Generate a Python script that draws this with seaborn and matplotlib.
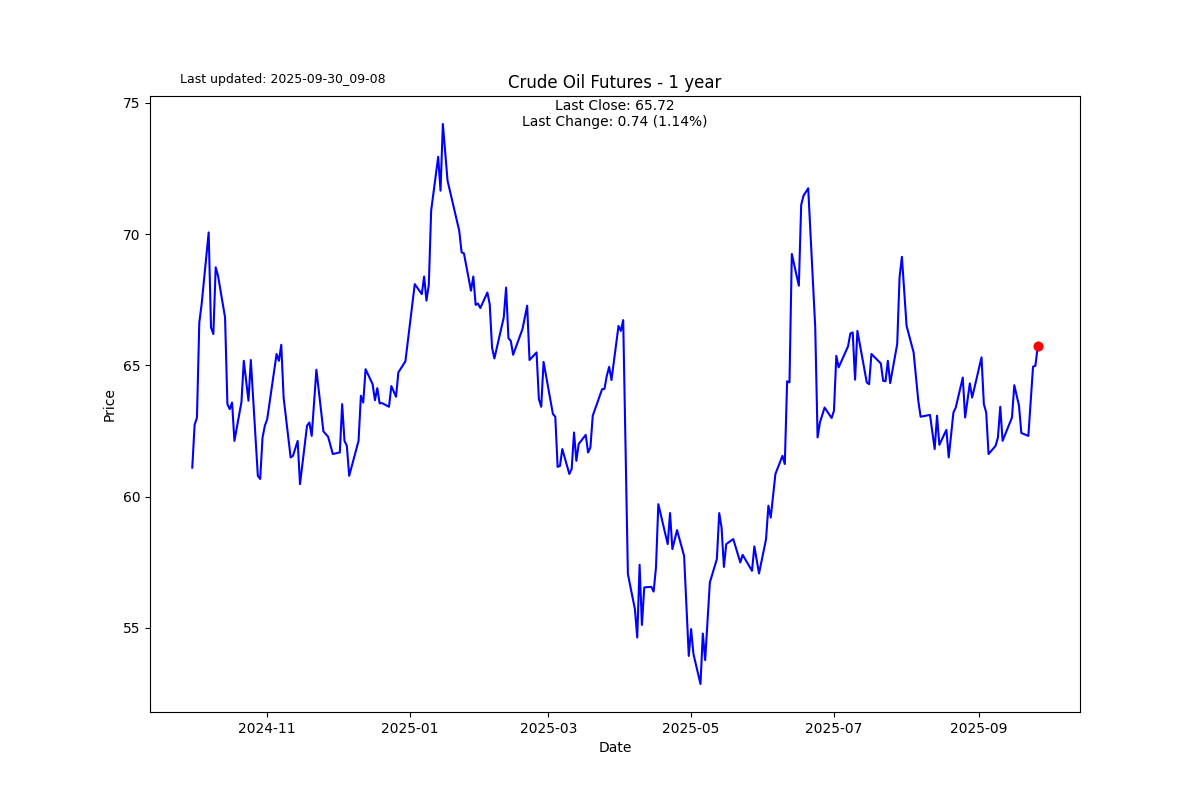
import matplotlib

matplotlib.use("Agg")
import matplotlib.pyplot as plt
import pandas as pd
import seaborn as sns

TITLE = "Crude Oil Futures - 1 year"
UPDATED = "Last updated: 2025-09-30_09-08"

# closing prices (days on straight stretches skipped)
dates = [
    "2024-09-30", "2024-10-01", "2024-10-02", "2024-10-03", "2024-10-04",
    "2024-10-07", "2024-10-08", "2024-10-09", "2024-10-10", "2024-10-11",
    "2024-10-14", "2024-10-15", "2024-10-16", "2024-10-17", "2024-10-18",
    "2024-10-21", "2024-10-22", "2024-10-24", "2024-10-25",
    "2024-10-28", "2024-10-29", "2024-10-30", "2024-10-31", "2024-11-01",
    "2024-11-05", "2024-11-06", "2024-11-07", "2024-11-08",
    "2024-11-11", "2024-11-12", "2024-11-14", "2024-11-15",
    "2024-11-18", "2024-11-19", "2024-11-20", "2024-11-22",
    "2024-11-25", "2024-11-27", "2024-11-29",
    "2024-12-02", "2024-12-03", "2024-12-04", "2024-12-05", "2024-12-06",
    "2024-12-10", "2024-12-11", "2024-12-12", "2024-12-13",
    "2024-12-16", "2024-12-17", "2024-12-18", "2024-12-19", "2024-12-20",
    "2024-12-23", "2024-12-24", "2024-12-26", "2024-12-27",
    "2024-12-30", "2025-01-03",
    "2025-01-06", "2025-01-07", "2025-01-08", "2025-01-09", "2025-01-10",
    "2025-01-13", "2025-01-14", "2025-01-15", "2025-01-17",
    "2025-01-22", "2025-01-23", "2025-01-24",
    "2025-01-27", "2025-01-28", "2025-01-29", "2025-01-30", "2025-01-31",
    "2025-02-03", "2025-02-04", "2025-02-05", "2025-02-06",
    "2025-02-10", "2025-02-11", "2025-02-12", "2025-02-13", "2025-02-14",
    "2025-02-18", "2025-02-20", "2025-02-21",
    "2025-02-24", "2025-02-25", "2025-02-26", "2025-02-27",
    "2025-03-03", "2025-03-04", "2025-03-05", "2025-03-06", "2025-03-07",
    "2025-03-10", "2025-03-11", "2025-03-12", "2025-03-13", "2025-03-14",
    "2025-03-17", "2025-03-18", "2025-03-19", "2025-03-20",
    "2025-03-24", "2025-03-25", "2025-03-26", "2025-03-27", "2025-03-28",
    "2025-03-31", "2025-04-01", "2025-04-02", "2025-04-04",
    "2025-04-07", "2025-04-08", "2025-04-09", "2025-04-10", "2025-04-11",
    "2025-04-14", "2025-04-15", "2025-04-16", "2025-04-17",
    "2025-04-21", "2025-04-22", "2025-04-23", "2025-04-25",
    "2025-04-28", "2025-04-30", "2025-05-01", "2025-05-02",
    "2025-05-05", "2025-05-06", "2025-05-07", "2025-05-09",
    "2025-05-12", "2025-05-13", "2025-05-14", "2025-05-15", "2025-05-16",
    "2025-05-19", "2025-05-22", "2025-05-23",
    "2025-05-27", "2025-05-28", "2025-05-30",
    "2025-06-02", "2025-06-03", "2025-06-04", "2025-06-06",
    "2025-06-09", "2025-06-10", "2025-06-11", "2025-06-12", "2025-06-13",
    "2025-06-16", "2025-06-17", "2025-06-18", "2025-06-20",
    "2025-06-23", "2025-06-24", "2025-06-25", "2025-06-27",
    "2025-06-30", "2025-07-01", "2025-07-02", "2025-07-03",
    "2025-07-07", "2025-07-08", "2025-07-09", "2025-07-10", "2025-07-11",
    "2025-07-15", "2025-07-16", "2025-07-17",
    "2025-07-21", "2025-07-22", "2025-07-23", "2025-07-24", "2025-07-25",
    "2025-07-28", "2025-07-29", "2025-07-30", "2025-08-01",
    "2025-08-04", "2025-08-06", "2025-08-07",
    "2025-08-11", "2025-08-13", "2025-08-14", "2025-08-15",
    "2025-08-18", "2025-08-19", "2025-08-21", "2025-08-22",
    "2025-08-25", "2025-08-26", "2025-08-28", "2025-08-29",
    "2025-09-02", "2025-09-03", "2025-09-04", "2025-09-05",
    "2025-09-08", "2025-09-09", "2025-09-10", "2025-09-11",
    "2025-09-15", "2025-09-16", "2025-09-18", "2025-09-19",
    "2025-09-22", "2025-09-24", "2025-09-25", "2025-09-26",
]
prices = [
    61.10, 62.73, 63.01, 66.63, 67.33,
    70.06, 66.44, 66.19, 68.73, 68.41,
    66.82, 63.52, 63.33, 63.58, 62.12,
    63.60, 65.17, 63.65, 65.20,
    60.79, 60.67, 62.25, 62.70, 62.95,
    65.43, 65.17, 65.78, 63.77,
    61.49, 61.55, 62.12, 60.47,
    62.70, 62.82, 62.31, 64.83,
    62.48, 62.28, 61.62,
    61.68, 63.52, 62.12, 61.93, 60.79,
    62.12, 63.84, 63.58, 64.85,
    64.28, 63.67, 64.13, 63.55, 63.56,
    63.42, 64.21, 63.80, 64.73,
    65.15, 68.09,
    67.71, 68.38, 67.46, 68.07, 70.89,
    72.94, 71.65, 74.19, 72.03,
    70.12, 69.30, 69.26,
    67.84, 68.38, 67.30, 67.35, 67.18,
    67.77, 67.33, 65.68, 65.26,
    66.82, 67.96, 66.03, 65.93, 65.40,
    66.38, 67.27, 65.20,
    65.49, 63.71, 63.42, 65.13,
    63.14, 63.04, 61.13, 61.17, 61.81,
    60.86, 61.05, 62.44, 61.36, 62.00,
    62.35, 61.68, 61.87, 63.08,
    64.09, 64.10, 64.60, 64.94, 64.44,
    66.50, 66.31, 66.72, 57.05,
    55.71, 54.63, 57.40, 55.11, 56.54,
    56.56, 56.38, 57.30, 59.71,
    58.19, 59.37, 58.00, 58.72,
    57.74, 53.93, 54.95, 54.00,
    52.86, 54.78, 53.77, 56.73,
    57.62, 59.37, 58.82, 57.32, 58.19,
    58.38, 57.49, 57.78,
    57.17, 58.10, 57.07,
    58.38, 59.65, 59.20, 60.86,
    61.55, 61.24, 64.39, 64.35, 69.24,
    68.03, 71.11, 71.46, 71.74,
    66.44, 62.25, 62.82, 63.39,
    62.99, 63.27, 65.36, 64.92,
    65.72, 66.21, 66.25, 64.45, 66.31,
    64.35, 64.28, 65.43,
    65.07, 64.41, 64.39, 65.17, 64.32,
    65.81, 68.35, 69.13, 66.50,
    65.49, 63.65, 63.04,
    63.11, 61.81, 63.08, 61.97,
    62.54, 61.49, 63.20, 63.39,
    64.53, 63.01, 64.31, 63.77,
    65.30, 63.52, 63.20, 61.62,
    61.93, 62.25, 63.42, 62.12,
    63.01, 64.24, 63.46, 62.42,
    62.31, 64.95, 64.98, 65.72,
]


def main() -> None:
    df = pd.DataFrame({"Date": pd.to_datetime(dates), "Price": prices})
    last = df.iloc[-1]
    prev = df.iloc[-2]
    change = last["Price"] - prev["Price"]
    pct = change / prev["Price"] * 100

    fig, ax = plt.subplots(figsize=(12, 8))
    sns.lineplot(data=df, x="Date", y="Price", color="blue", linewidth=1.5, ax=ax)
    sns.scatterplot(x=[last["Date"]], y=[last["Price"]], color="red", edgecolor="red",
                    s=45, zorder=3, ax=ax)

    ax.set_title(TITLE, fontsize=12)
    ax.set_xlabel("Date")
    ax.set_ylabel("Price")
    ax.text(0.5, 0.995, f"Last Close: {last['Price']:.2f}\nLast Change: {change:.2f} ({pct:.2f}%)",
            transform=ax.transAxes, ha="center", va="top", fontsize=10)
    fig.text(0.15, 0.901, UPDATED, fontsize=9, va="center")

    fig.savefig("out.png", dpi=100)
    plt.close(fig)


if __name__ == "__main__":
    main()
